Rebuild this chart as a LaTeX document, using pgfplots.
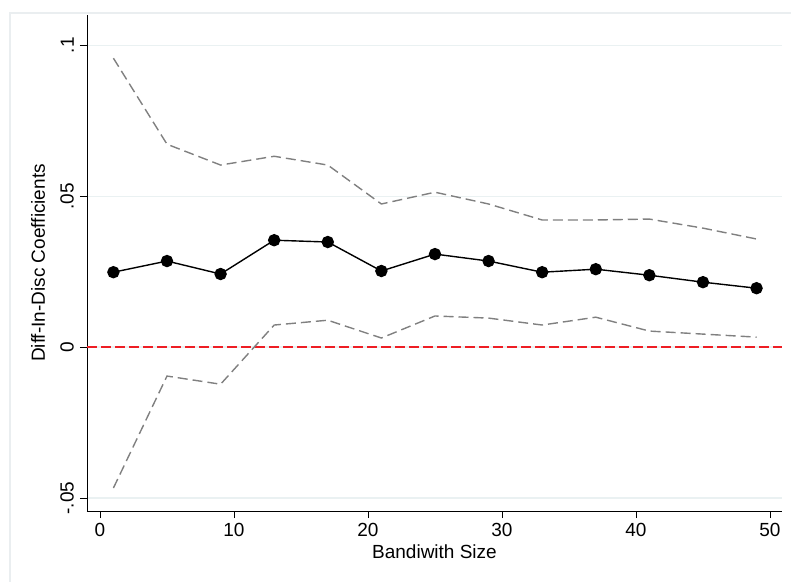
\documentclass[border=0pt]{standalone}
\usepackage{pgfplots}
\pgfplotsset{compat=1.18}
\usepackage{fontspec}
\setmainfont{Liberation Sans}
\definecolor{gridc}{RGB}{234,241,242}
\definecolor{ciGray}{RGB}{128,128,128}
\definecolor{frameC}{RGB}{234,238,240}
\definecolor{zeroRed}{RGB}{238,30,36}
\begin{document}
\begin{tikzpicture}[x=1pt,y=1pt]
\path[use as bounding box] (-87,-71) rectangle (704,511);
\draw[frameC, line width=1.2pt] (-77,-71) -- (-77,498) -- (704,498);
\begin{axis}[
  scale only axis, width=695pt, height=496pt,
  xmin=-0.97, xmax=50.9,
  ymin=-0.0543, ymax=0.11,
  axis x line*=bottom, axis y line*=left,
  axis line style={black, line width=0.9pt, -},
  xtick={0,10,20,30,40,50},
  ytick={-0.05,0,0.05,0.1},
  yticklabels={-.05,0,.05,.1},
  tick align=outside, major tick length=7pt,
  tick style={black, line width=0.8pt},
  ymajorgrids, grid style={gridc, line width=1.2pt},
  /pgf/number format/assume math mode=true,
  tick label style={font=\fontsize{19}{22}\selectfont},
  yticklabel style={rotate=90, anchor=south, inner xsep=0pt, inner ysep=6pt},
  xticklabel style={anchor=north, inner xsep=0pt, inner ysep=5pt},
  xlabel={Bandiwith Size}, ylabel={Diff-In-Disc Coefficients},
  every axis x label/.style={at={(axis description cs:0.5,0)}, anchor=center, yshift=-41pt, font=\fontsize{19}{22}\selectfont},
  every axis y label/.style={at={(axis description cs:0,0.5)}, anchor=center, rotate=90, yshift=49pt, font=\fontsize{19}{22}\selectfont},
  clip=false,
]
\addplot[zeroRed, line width=1.6pt, dash pattern=on 10pt off 4pt, forget plot] coordinates {(-0.97,0) (50.9,0)};
\addplot[ciGray, line width=1.4pt, dash pattern=on 10pt off 5pt] coordinates {
(1,0.0957) (5,0.0672) (9,0.0603) (13,0.0632) (17,0.0603) (21,0.0474) (25,0.0513) (29,0.0474) (33,0.0421) (37,0.0421) (41,0.0424) (45,0.0394) (49,0.0358)};
\addplot[ciGray, line width=1.4pt, dash pattern=on 10pt off 5pt] coordinates {
(1,-0.0467) (5,-0.0096) (9,-0.0123) (13,0.0073) (17,0.0089) (21,0.0030) (25,0.0103) (29,0.0096) (33,0.0073) (37,0.0099) (41,0.0053) (45,0.0043) (49,0.0033)};
\addplot[black, line width=1.4pt, mark=*, mark size=5.5pt] coordinates {
(1,0.0248) (5,0.0285) (9,0.0242) (13,0.0354) (17,0.0348) (21,0.0252) (25,0.0308) (29,0.0285) (33,0.0248) (37,0.0258) (41,0.0238) (45,0.0215) (49,0.0195)};
\end{axis}
\end{tikzpicture}
\end{document}
